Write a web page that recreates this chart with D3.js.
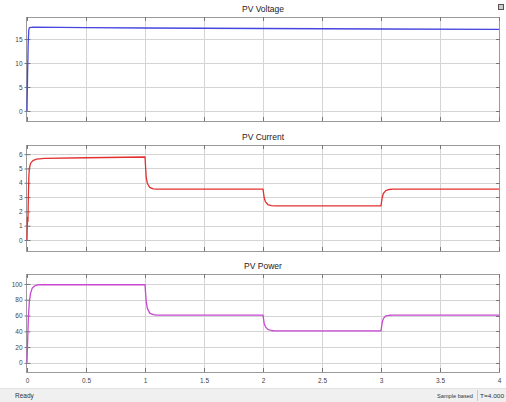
<!DOCTYPE html>
<html>
<head>
<meta charset="utf-8">
<script src="https://cdn.jsdelivr.net/npm/d3@7"></script>
<style>
  body { margin: 0; background: #fff; }
  svg { display: block; font-family: "Liberation Sans", Arial, sans-serif; }
</style>
</head>
<body>
<div class="canva"></div>
<script>
// datos
const xTicks = [0, 0.5, 1, 1.5, 2, 2.5, 3, 3.5, 4];

const voltTime = [0, 0.005, 0.01, 0.015, 0.02, 0.05, 0.5, 1, 2, 3, 4];
const voltValues = [0, 8, 14, 16.8, 17.4, 17.5, 17.4, 17.3, 17.2, 17.1, 17.0];
const voltTicks = [0, 5, 10, 15];

const currTime = [0, 0.004, 0.008, 0.012, 0.016, 0.02, 0.03, 0.05, 0.08, 0.15, 0.5, 0.999,
  1.0, 1.01, 1.02, 1.04, 1.07, 1.1, 1.999,
  2.0, 2.01, 2.02, 2.04, 2.07, 2.1, 2.999,
  3.0, 3.01, 3.02, 3.04, 3.07, 3.1, 4];
const currValues = [0, 1.6, 1.3, 3.2, 4.5, 5.0, 5.35, 5.55, 5.65, 5.7, 5.75, 5.8,
  5.8, 4.4, 3.95, 3.68, 3.57, 3.55, 3.55,
  3.55, 2.95, 2.68, 2.48, 2.4, 2.38, 2.38,
  2.4, 2.95, 3.25, 3.45, 3.53, 3.55, 3.55];
const currTicks = [0, 1, 2, 3, 4, 5, 6];

const powTime = [0, 0.004, 0.008, 0.012, 0.02, 0.03, 0.045, 0.07, 0.1, 0.999,
  1.0, 1.01, 1.02, 1.04, 1.07, 1.1, 1.999,
  2.0, 2.01, 2.02, 2.04, 2.07, 2.1, 2.999,
  3.0, 3.01, 3.02, 3.04, 3.07, 3.1, 4];
const powValues = [0, 22, 40, 58, 78, 88, 95, 98, 99, 99,
  99, 78, 69, 63, 61, 60.5, 60.5,
  60.5, 50, 46, 42.5, 41, 40.5, 40.5,
  40.5, 51, 56, 59.5, 60.3, 60.5, 60.5];
const powTicks = [0, 20, 40, 60, 80, 100];

const W = 506, H = 402;

const svg = d3.select(".canva")
  .append("svg")
  .attr("width", W)
  .attr("height", H);

svg.append("rect").attr("width", W).attr("height", H).attr("fill", "#fff");

const x = d3.scaleLinear().domain([0, 4]).range([27, 499]);

const panels = [
  { title: "PV Voltage", t: voltTime, v: voltValues, ticks: voltTicks, dom: [-2.1, 19.6], top: 17, bottom: 121, color: "#4646e0" },
  { title: "PV Current", t: currTime, v: currValues, ticks: currTicks, dom: [-0.77, 6.64], top: 145, bottom: 251, color: "#e23030" },
  { title: "PV Power", t: powTime, v: powValues, ticks: powTicks, dom: [-11.6, 112.6], top: 274, bottom: 372, color: "#c846d2" }
];

panels.forEach(function(p, idx) {
  const y = d3.scaleLinear().domain(p.dom).range([p.bottom, p.top]);
  const g = svg.append("g");

  // grid
  g.selectAll(".gx").data(xTicks.slice(1, -1)).enter().append("line")
    .attr("x1", d => Math.round(x(d)) + 0.5).attr("x2", d => Math.round(x(d)) + 0.5)
    .attr("y1", p.top).attr("y2", p.bottom)
    .attr("stroke", "#d4d4d4").attr("stroke-width", 1);
  g.selectAll(".gy").data(p.ticks).enter().append("line")
    .attr("x1", 26).attr("x2", 500)
    .attr("y1", d => Math.round(y(d)) + 0.5).attr("y2", d => Math.round(y(d)) + 0.5)
    .attr("stroke", "#d4d4d4").attr("stroke-width", 1);

  // caja
  g.append("rect")
    .attr("x", 26.5).attr("y", p.top + 0.5)
    .attr("width", 473).attr("height", p.bottom - p.top)
    .attr("fill", "none").attr("stroke", "#9a9a9a");

  // ejes
  const left = d3.axisLeft(y).tickValues(p.ticks).tickSize(3).tickPadding(1);
  g.append("g").attr("transform", "translate(26.5,0)").call(left)
    .call(s => s.select(".domain").remove())
    .call(s => s.selectAll("line").attr("stroke", "#777").attr("x2", 4).attr("x1", -2))
    .call(s => s.selectAll("text").attr("font-size", 6.5).attr("fill", "#444").attr("font-family", "Liberation Sans, Arial"));
  g.selectAll(".rt").data(p.ticks).enter().append("line")
    .attr("x1", 496).attr("x2", 500)
    .attr("y1", d => Math.round(y(d)) + 0.5).attr("y2", d => Math.round(y(d)) + 0.5)
    .attr("stroke", "#777");

  const bottom = d3.axisBottom(x).tickValues(xTicks).tickSize(0).tickFormat(idx === 2 ? d3.format("") : () => "");
  g.append("g").attr("transform", "translate(0," + p.bottom + ")").call(bottom)
    .call(s => s.select(".domain").remove())
    .call(s => s.selectAll("text").attr("font-size", 6.5).attr("fill", "#444").attr("dy", "1.2em").attr("font-family", "Liberation Sans, Arial"));
  g.selectAll(".bt").data(xTicks).enter().append("line")
    .attr("x1", d => Math.round(x(d)) + 0.5).attr("x2", d => Math.round(x(d)) + 0.5)
    .attr("y1", p.bottom - 4).attr("y2", p.bottom)
    .attr("stroke", "#777");
  g.selectAll(".tt").data(xTicks).enter().append("line")
    .attr("x1", d => Math.round(x(d)) + 0.5).attr("x2", d => Math.round(x(d)) + 0.5)
    .attr("y1", p.top).attr("y2", p.top + 4)
    .attr("stroke", "#777");

  // titulo
  g.append("text")
    .attr("x", 263).attr("y", p.top - 5)
    .attr("text-anchor", "middle")
    .attr("font-size", 8.5).attr("fill", "#222")
    .text(p.title);

  // linea
  const line = d3.line().x((d, i) => x(p.t[i])).y(d => y(d));
  g.append("path")
    .datum(p.v)
    .attr("d", line)
    .attr("fill", "none")
    .attr("stroke", p.color)
    .attr("stroke-width", 1.3)
    .attr("stroke-linejoin", "round");
});

// icono arriba derecha
svg.append("rect").attr("x", 498.5).attr("y", 4.5).attr("width", 5).attr("height", 5)
  .attr("fill", "#ccc").attr("stroke", "#555");

// barra de estado
svg.append("rect").attr("x", 0).attr("y", 388).attr("width", W).attr("height", 14).attr("fill", "#f0f0f0");
svg.append("line").attr("x1", 0).attr("x2", W).attr("y1", 388.5).attr("y2", 388.5).attr("stroke", "#e2e2e2");
svg.append("text").attr("x", 15).attr("y", 398).attr("font-size", 6.5).attr("fill", "#333").text("Ready");
svg.append("text").attr("x", 437).attr("y", 398).attr("font-size", 6).attr("fill", "#333")
  .attr("textLength", 36).attr("lengthAdjust", "spacingAndGlyphs").text("Sample based");
svg.append("line").attr("x1", 477.5).attr("x2", 477.5).attr("y1", 390).attr("y2", 401).attr("stroke", "#c8c8c8");
svg.append("text").attr("x", 480).attr("y", 398).attr("font-size", 6).attr("fill", "#333")
  .attr("textLength", 24).attr("lengthAdjust", "spacingAndGlyphs").text("T=4.000");
</script>
</body>
</html>
